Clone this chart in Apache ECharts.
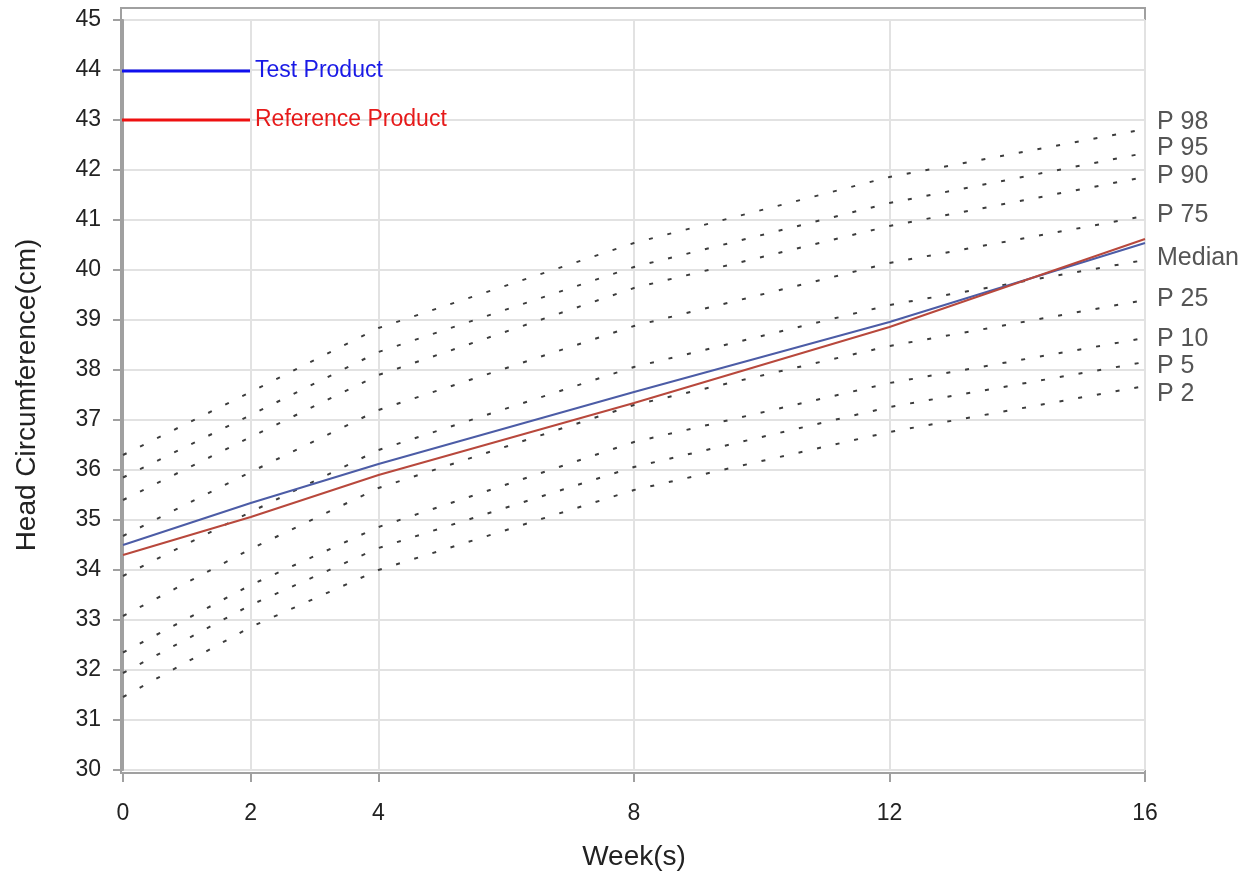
<!DOCTYPE html>
<html>
<head>
<meta charset="utf-8">
<script src="https://cdn.jsdelivr.net/npm/echarts@6/dist/echarts.min.js"></script>
<style>
  html, body { margin: 0; padding: 0; background: #fff; }
  #chart { width: 1252px; height: 880px; }
</style>
</head>
<body>
<div id="chart"></div>
<script>
// weeks on the x axis
const weeks = [0, 2, 4, 8, 12, 16]
const xTicks = [0, 2, 4, 8, 12, 16]

// growth reference percentiles (cm)
const p98 = [36.3, 37.56, 38.84, 40.54, 41.86, 42.82]
const p95 = [35.85, 37.1, 38.36, 40.06, 41.34, 42.34]
const p90 = [35.4, 36.66, 37.9, 39.64, 40.88, 41.86]
const p75 = [34.68, 35.96, 37.2, 38.88, 40.14, 41.08]
const median = [33.88, 35.16, 36.4, 38.06, 39.3, 40.2]
const p25 = [33.08, 34.42, 35.64, 37.3, 38.48, 39.4]
const p10 = [32.35, 33.7, 34.86, 36.56, 37.74, 38.64]
const p5 = [31.94, 33.3, 34.44, 36.06, 37.26, 38.16]
const p2 = [31.46, 32.86, 34.0, 35.6, 36.76, 37.68]

// mean head circumference per product
const testProduct = [34.5, 35.34, 36.12, 37.56, 38.96, 40.54]
const referenceProduct = [34.3, 35.06, 35.9, 37.34, 38.86, 40.62]

const FONT = "'Liberation Sans', Arial, sans-serif"
const AXIS_GRAY = '#a0a0a0'

const percentiles = [
  { name: 'P 98', values: p98, dy: -7 },
  { name: 'P 95', values: p95, dy: -5 },
  { name: 'P 90', values: p90, dy: -1 },
  { name: 'P 75', values: p75, dy: -1 },
  { name: 'Median', values: median, dy: -2 },
  { name: 'P 25', values: p25, dy: -1 },
  { name: 'P 10', values: p10, dy: 1 },
  { name: 'P 5', values: p5, dy: 4 },
  { name: 'P 2', values: p2, dy: 8 },
]

const pairs = (ys) => weeks.map((w, i) => [w, ys[i]])

const percentileSeries = percentiles.map((p) => ({
  name: p.name,
  type: 'line',
  data: pairs(p.values),
  showSymbol: false,
  silent: true,
  z: 2,
  lineStyle: { color: '#3c3c3c', width: 2, type: [4, 15] },
  endLabel: {
    show: true,
    formatter: '{a}',
    distance: 12,
    offset: [0, p.dy],
    color: '#555',
    fontSize: 25,
    fontFamily: FONT,
  },
}))

const chart = echarts.init(document.getElementById('chart'), null, { renderer: 'canvas' })

chart.setOption({
  animation: false,
  backgroundColor: '#fff',
  grid: { left: 123, right: 107, top: 20, bottom: 110 },
  graphic: [
    {
      type: 'rect',
      shape: { x: 121, y: 8, width: 1024, height: 765 },
      style: { fill: 'none', stroke: AXIS_GRAY, lineWidth: 2 },
      silent: true,
      z: 0,
    },
  ],
  legend: {
    orient: 'vertical',
    left: 122,
    top: 58,
    padding: 0,
    itemWidth: 128,
    itemHeight: 3,
    itemGap: 23,
    itemTextGap: 6,
    selectedMode: false,
    textStyle: { fontSize: 23, fontFamily: FONT, lineHeight: 26 },
    data: [
      { name: 'Test Product', icon: 'rect', itemStyle: { color: '#1010ee' }, textStyle: { color: '#1a1ae6' } },
      { name: 'Reference Product', icon: 'rect', itemStyle: { color: '#ee1010' }, textStyle: { color: '#e61a1a' } },
    ],
  },
  xAxis: {
    type: 'value',
    min: 0,
    max: 16,
    offset: 3,
    name: 'Week(s)',
    nameLocation: 'middle',
    nameGap: 70,
    nameTextStyle: { fontSize: 28, fontFamily: FONT, color: '#222' },
    axisLine: { show: true, lineStyle: { color: AXIS_GRAY, width: 2 } },
    axisTick: { show: true, length: 9, customValues: xTicks, lineStyle: { color: AXIS_GRAY, width: 2 } },
    axisLabel: { customValues: xTicks, margin: 29, fontSize: 23, fontFamily: FONT, color: '#222' },
    splitLine: { show: true, lineStyle: { color: '#e2e2e2', width: 2 } },
  },
  yAxis: {
    type: 'value',
    min: 30,
    max: 45,
    interval: 1,
    offset: 2,
    name: 'Head Circumference(cm)',
    nameLocation: 'middle',
    nameGap: 80,
    nameTextStyle: { fontSize: 28, fontFamily: FONT, color: '#222' },
    axisLine: { show: true, lineStyle: { color: AXIS_GRAY, width: 2 } },
    axisTick: { show: true, length: 10, lineStyle: { color: AXIS_GRAY, width: 2 } },
    axisLabel: { margin: 20, fontSize: 23, fontFamily: FONT, color: '#222' },
    splitLine: { show: true, lineStyle: { color: '#e2e2e2', width: 2 } },
  },
  series: [
    ...percentileSeries,
    {
      name: 'Test Product',
      type: 'line',
      data: pairs(testProduct),
      showSymbol: false,
      silent: true,
      z: 3,
      lineStyle: { color: '#4c5ca6', width: 2 },
      itemStyle: { color: '#4c5ca6' },
    },
    {
      name: 'Reference Product',
      type: 'line',
      data: pairs(referenceProduct),
      showSymbol: false,
      silent: true,
      z: 4,
      lineStyle: { color: '#b8483c', width: 2 },
      itemStyle: { color: '#b8483c' },
    },
  ],
})
</script>
</body>
</html>
